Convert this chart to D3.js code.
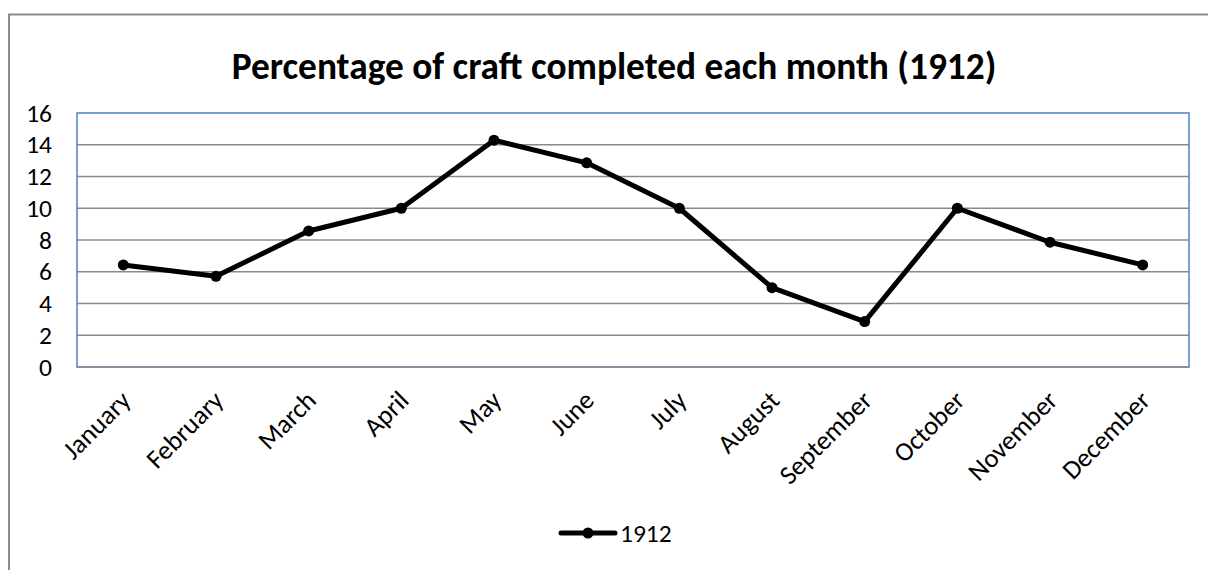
<!DOCTYPE html>
<html>
<head>
<meta charset="utf-8">
<script src="https://cdn.jsdelivr.net/npm/d3@7"></script>
<style>
  body { margin: 0; background: #fff; }
  text { font-family: Carlito, "Liberation Sans Narrow", "Open Sans", sans-serif; }
</style>
</head>
<body>
<svg id="chart" width="1208" height="570"></svg>
<script>
'use strict';

var months = ['January', 'February', 'March', 'April', 'May', 'June',
  'July', 'August', 'September', 'October', 'November', 'December'];
var values = [6.43, 5.71, 8.57, 10, 14.29, 12.86, 10, 5, 2.86, 10, 7.86, 6.43];
var yTicks = [0, 2, 4, 6, 8, 10, 12, 14, 16];
var seriesName = '1912';
var title = 'Percentage of craft completed each month (1912)';

var svg = d3.select('#chart');
var plot = {left: 77, right: 1189, top: 113, bottom: 367};
var labelSize = '25.5px';

// outer frame (only left and top visible)
svg.append('path')
  .attr('d', 'M9,570 V14.5 H1208')
  .attr('fill', 'none')
  .attr('stroke', '#8c8c8c')
  .attr('stroke-width', 2);

var x = d3.scaleBand().domain(months).range([plot.left, plot.right]);
var y = d3.scaleLinear().domain([0, 16]).range([plot.bottom, plot.top]);

// gridlines
svg.append('g').selectAll('line')
  .data(yTicks.slice(1, -1))
  .enter().append('line')
  .attr('x1', plot.left).attr('x2', plot.right)
  .attr('y1', function(d){ return y(d); })
  .attr('y2', function(d){ return y(d); })
  .attr('stroke', '#8a8a8a')
  .attr('stroke-width', 1.5);

// plot border
svg.append('rect')
  .attr('x', plot.left).attr('y', plot.top)
  .attr('width', plot.right - plot.left)
  .attr('height', plot.bottom - plot.top)
  .attr('fill', 'none')
  .attr('stroke', '#4f81bd')
  .attr('stroke-width', 1.5);

svg.append('line')
  .attr('x1', plot.left).attr('x2', plot.right)
  .attr('y1', y(0)).attr('y2', y(0))
  .attr('stroke', '#8a8a8a')
  .attr('stroke-width', 1.5);

// y axis labels
var yAxis = d3.axisLeft(y).tickValues(yTicks).tickSize(0).tickPadding(25);
var yg = svg.append('g')
  .attr('transform', 'translate(' + plot.left + ',0)')
  .call(yAxis);
yg.select('.domain').remove();
yg.selectAll('text')
  .style('font-size', labelSize)
  .attr('fill', '#000');

// x axis labels, rotated
var xAxis = d3.axisBottom(x).tickSize(0).tickPadding(0);
var xg = svg.append('g')
  .attr('transform', 'translate(0,' + plot.bottom + ')')
  .call(xAxis);
xg.select('.domain').remove();
xg.selectAll('text')
  .style('font-size', '26.5px')
  .attr('fill', '#000')
  .attr('text-anchor', 'end')
  .attr('dy', null)
  .attr('y', 0)
  .attr('transform', 'translate(9,35) rotate(-45)');

// series line
var line = d3.line()
  .x(function(d, i){ return x(months[i]) + x.bandwidth() / 2; })
  .y(function(d){ return y(d); });

svg.append('path')
  .datum(values)
  .attr('d', line)
  .attr('fill', 'none')
  .attr('stroke', '#000')
  .attr('stroke-width', 5)
  .attr('stroke-linejoin', 'round');

svg.append('g').selectAll('circle')
  .data(values)
  .enter().append('circle')
  .attr('cx', function(d, i){ return x(months[i]) + x.bandwidth() / 2; })
  .attr('cy', function(d){ return y(d); })
  .attr('r', 5.5)
  .attr('fill', '#000');

// title
var t = svg.append('text')
  .attr('x', 614)
  .attr('y', 79)
  .attr('text-anchor', 'middle')
  .style('font-size', '30px')
  .style('font-weight', 'bold')
  .text(title);
var tw = t.node().getComputedTextLength();
t.style('font-size', (30 * 765 / tw) + 'px');

// legend
var lg = svg.append('g').attr('transform', 'translate(561,533)');
lg.append('line')
  .attr('x1', 0).attr('x2', 54)
  .attr('stroke', '#000')
  .attr('stroke-width', 5)
  .attr('stroke-linecap', 'round');
lg.append('circle').attr('cx', 27).attr('r', 5.5).attr('fill', '#000');
lg.append('text')
  .attr('x', 59).attr('y', 9)
  .style('font-size', labelSize)
  .text(seriesName);
</script>
</body>
</html>
